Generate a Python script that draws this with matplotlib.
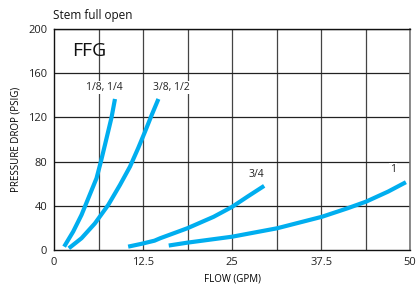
import matplotlib
matplotlib.use('Agg')
import matplotlib.pyplot as plt
import numpy as np

plt.rcParams['font.family'] = ['Open Sans', 'DejaVu Sans']

# flow (GPM) vs pressure drop (PSIG)
flow_a = [1.41, 2.68, 3.85, 5.0, 5.96, 6.57, 7.14, 7.7, 8.07, 8.55]
psig_a = [3, 16.6, 31.7, 49.8, 64.9, 79.9, 95, 110, 120, 136.6]

flow_b = [2.07, 3.85, 5.73, 7.6, 9.25, 10.66, 11.8, 12.77, 13.7, 14.65]
psig_b = [1.5, 10.6, 24, 40.7, 58.8, 75.4, 92, 107, 122, 136.6]

flow_c = [10.4, 12.3, 14.1, 14.9, 18.7, 22.4, 25.0, 27.1, 29.5]
psig_c = [3, 5.6, 8.4, 10.6, 19.6, 30, 39, 48, 58]

flow_d = [16.1, 18.7, 25.0, 31.3, 37.6, 41.2, 43.8, 46.9, 49.4]
psig_d = [4, 6.6, 12, 19.6, 30, 37.7, 43.7, 52.8, 61.3]

series = [
    (flow_a, psig_a, '1/8, 1/4', (7.0, 147)),
    (flow_b, psig_b, '3/8, 1/2', (16.4, 147)),
    (flow_c, psig_c, '3/4', (28.4, 68)),
    (flow_d, psig_d, '1', (47.6, 73)),
]

x_ticks = [0, 12.5, 25, 37.5, 50]
x_tick_labels = ['0', '12.5', '25', '37.5', '50']
y_ticks = [0, 40, 80, 120, 160, 200]

fig = plt.figure(figsize=(4.16, 2.86), dpi=100)
ax = fig.add_axes([0.13, 0.126, 0.856, 0.773])

# grid every 6.25 GPM and 40 PSIG
for gx in np.arange(6.25, 50.1, 6.25):
    ax.axvline(gx, color='#444444', lw=0.9, zorder=1)
for gy in y_ticks[1:]:
    ax.axhline(gy, color='#222222', lw=0.9, zorder=1)

for flow, psig, label, pos in series:
    ax.plot(flow, psig, color='#00AEEF', lw=3.0, solid_capstyle='butt',
            solid_joinstyle='round', zorder=3)
    ax.text(pos[0], pos[1], label, ha='center', va='center', fontsize=7.5,
            color='#222222', zorder=4,
            bbox=dict(facecolor='white', edgecolor='none', pad=0.5))

ax.text(2.6, 180, 'FFG', ha='left', va='center', fontsize=14, color='#111111')

ax.set_xlim(0, 50)
ax.set_ylim(0, 200)
ax.set_xticks(x_ticks)
ax.set_xticklabels(x_tick_labels)
ax.set_yticks(y_ticks)
ax.tick_params(length=0, labelsize=8, pad=5, colors='#222222')
for side in ['left', 'bottom', 'top']:
    ax.spines[side].set_color('#111111')
    ax.spines[side].set_linewidth(1.0)
ax.spines['right'].set_color('#777777')
ax.spines['right'].set_linewidth(1.2)

ax.set_xlabel('FLOW (GPM)', fontsize=7, labelpad=4)
ax.set_ylabel('PRESSURE DROP (PSIG)', fontsize=7, labelpad=5)
fig.text(0.128, 0.945, 'Stem full open', ha='left', va='center', fontsize=8.5,
         color='#111111')

plt.savefig('out.png', dpi=100)
plt.close()
